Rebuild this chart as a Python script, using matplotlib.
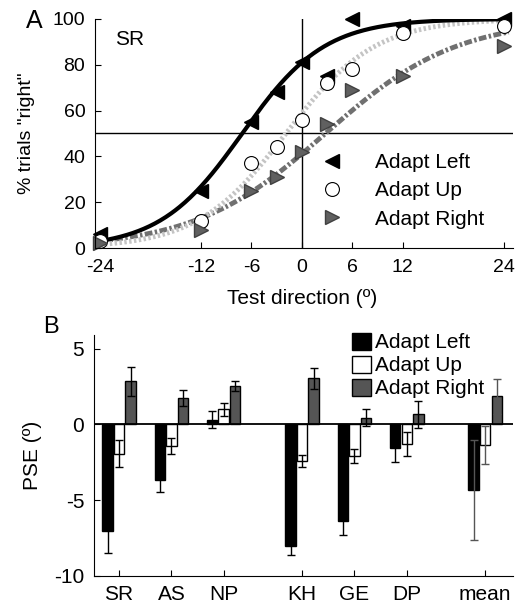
import matplotlib
matplotlib.use('Agg')
import matplotlib.pyplot as plt
import numpy as np

plt.rcParams['font.family'] = ['Liberation Sans', 'DejaVu Sans']
plt.rcParams['font.size'] = 14
plt.rcParams['axes.unicode_minus'] = False

# panel A: psychometric data for observer SR
test_dir = [-24, -12, -6, -3, 0, 3, 6, 12, 24]
left_pct = [6, 25, 55, 68, 81, 75, 100, 97, 100]
up_pct = [3, 12, 37, 44, 56, 72, 78, 94, 97]
right_pct = [2, 8, 25, 31, 42, 54, 69, 75, 88]

# logistic fit parameters (PSE, slope) for each condition
fit_left = (-7.1, 4.9)
fit_up = (-1.9, 5.3)
fit_right = (2.8, 7.8)

# panel B: PSE per observer
observers = ['SR', 'AS', 'NP', 'KH', 'GE', 'DP', 'mean']
obs_pos = [1, 2, 3, 4.5, 5.5, 6.5, 8]
pse_left = [-7.05, -3.68, 0.3, -8.03, -6.36, -1.56, -4.34]
err_left = [1.45, 0.8, 0.55, 0.6, 0.95, 0.9, 3.3]
pse_up = [-1.93, -1.43, 0.99, -2.41, -2.1, -1.32, -1.34]
err_up = [0.9, 0.5, 0.45, 0.4, 0.45, 0.8, 1.25]
pse_right = [2.83, 1.73, 2.52, 3.05, 0.44, 0.66, 1.86]
err_right = [0.95, 0.55, 0.35, 0.7, 0.55, 0.9, 1.15]


def logistic(x, mu, s):
    return 100.0 / (1.0 + np.exp(-(x - mu) / s))


fig = plt.figure(figsize=(5.31, 6.08), dpi=100)
ax = fig.add_axes([0.179, 0.592, 0.787, 0.377])
xs = np.linspace(-24, 24.6, 300)

ax.axhline(50, color='black', lw=1)
ax.axvline(0, color='black', lw=1)
ax.plot(xs, logistic(xs, *fit_right), color='#707070', lw=3.5,
        dashes=(1.6, 0.5, 0.5, 0.5))
ax.plot(xs, logistic(xs, *fit_up), color='#c4c4c4', lw=3.5,
        dashes=(0.5, 0.5))
ax.plot(xs, logistic(xs, *fit_left), color='black', lw=3)

ax.plot(test_dir, left_pct, '<', color='black', ms=10, ls='none',
        label='Adapt Left', clip_on=False)
ax.plot(test_dir, up_pct, 'o', mfc='white', mec='black', mew=0.8, ms=10,
        ls='none', label='Adapt Up', clip_on=False)
ax.plot(test_dir, right_pct, '>', color='#606060', mec='#404040', ms=10,
        ls='none', label='Adapt Right', clip_on=False)

ax.set_xlim(-24.6, 25.1)
ax.set_ylim(0, 100)
ax.set_xticks([-24, -12, -6, 0, 6, 12, 24])
ax.set_yticks([0, 20, 40, 60, 80, 100])
ax.tick_params(direction='in', length=4, labelsize=14)
ax.tick_params(axis='x', pad=8)
ax.tick_params(axis='y', pad=7)
ax.spines['top'].set_visible(False)
ax.spines['right'].set_visible(False)
ax.set_xlabel('Test direction (º)', fontsize=15)
ax.xaxis.set_label_coords(0.495, -0.18)
ax.set_ylabel('% trials "right"', fontsize=14)
ax.yaxis.set_label_coords(-0.144, 0.5)
ax.text(0.048, 0.886, 'SR', transform=ax.transAxes, fontsize=15)
fig.text(26 / 531, 1 - 28 / 608, 'A', fontsize=18)
ax.legend(loc='upper left', bbox_to_anchor=(0.517, 0.415), frameon=False,
          borderpad=0, borderaxespad=0, handletextpad=1.05,
          labelspacing=0.45, fontsize=15)

# panel B
bx = fig.add_axes([0.177, 0.053, 0.789, 0.396])
w = 0.2
d = 0.22
pos = np.array(obs_pos)
ecol = ['black'] * 6 + ['#555555']
for i in range(len(pos)):
    bx.bar(pos[i] - d, pse_left[i], w, color='black', edgecolor='black',
           yerr=err_left[i], ecolor=ecol[i], capsize=3, error_kw={'lw': 1})
    bx.bar(pos[i], pse_up[i], w, color='white', edgecolor='black',
           yerr=err_up[i], ecolor=ecol[i], capsize=3, error_kw={'lw': 1})
    bx.bar(pos[i] + d, pse_right[i], w, color='#555555', edgecolor='black',
           yerr=err_right[i], ecolor=ecol[i], capsize=3, error_kw={'lw': 1})
bx.axhline(0, color='black', lw=1.3)

handles = [plt.Rectangle((0, 0), 1, 1, fc=c, ec='black')
           for c in ('black', 'white', '#555555')]
bx.legend(handles, ['Adapt Left', 'Adapt Up', 'Adapt Right'],
          loc='upper left', bbox_to_anchor=(0.616, 1.01), frameon=False,
          borderpad=0, borderaxespad=0,
          handlelength=0.9, handleheight=0.9, handletextpad=0.2,
          labelspacing=0.15, fontsize=15)

bx.set_xlim(0.52, 8.53)
bx.set_ylim(-10, 5.9)
bx.set_xticks(obs_pos)
bx.set_xticklabels(observers)
bx.set_yticks([-10, -5, 0, 5])
bx.tick_params(direction='in', length=4, labelsize=15)
bx.tick_params(axis='x', pad=7)
bx.tick_params(axis='y', pad=7)
bx.spines['top'].set_visible(False)
bx.spines['right'].set_visible(False)
bx.set_ylabel('PSE (º)', fontsize=15)
bx.yaxis.set_label_coords(-0.124, 0.5)
fig.text(43 / 531, 1 - 333 / 608, 'B', fontsize=17)

fig.savefig('out.png', dpi=100)
